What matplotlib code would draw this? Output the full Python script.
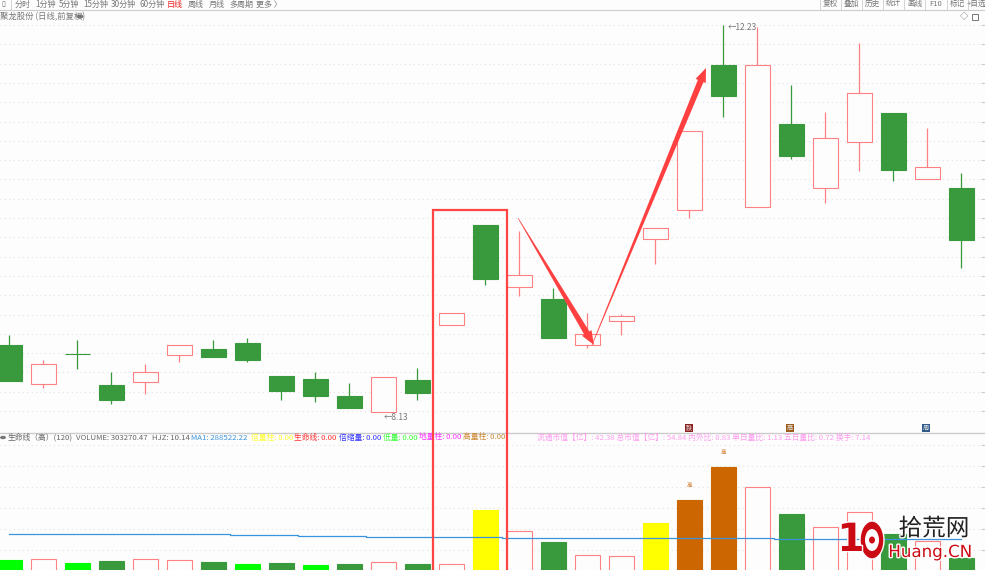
import numpy as np
import matplotlib
matplotlib.use('Agg')
import matplotlib.pyplot as plt
from matplotlib.patches import Rectangle, Polygon, Circle, Ellipse
from matplotlib.lines import Line2D
import matplotlib.patheffects as pe

plt.rcParams['font.family'] = ['Noto Sans CJK SC', 'DejaVu Sans']

# daily candles
opens = [8.84, 8.43, 8.74, 8.42, 8.45, 8.73, 8.80, 8.86, 8.51, 8.48, 8.30, 8.13, 8.47, 9.05, 10.11,
         9.45, 9.33, 8.84, 9.09, 9.96, 10.27, 11.81, 10.30, 11.18, 10.50, 10.99, 11.30, 10.60, 10.50]
closes = [8.46, 8.64, 8.74, 8.26, 8.55, 8.84, 8.71, 8.68, 8.35, 8.30, 8.17, 8.50, 8.33, 9.18, 9.54,
          9.58, 8.91, 8.96, 9.15, 10.08, 11.11, 11.48, 11.81, 10.84, 11.03, 11.51, 10.69, 10.73, 9.95]
highs = [8.95, 8.68, 8.89, 8.55, 8.64, 8.84, 8.89, 8.91, 8.51, 8.55, 8.44, 8.50, 8.60, 9.18, 10.11,
         10.05, 9.44, 9.18, 9.17, 10.08, 11.11, 12.23, 12.21, 11.59, 11.31, 12.04, 11.30, 11.14, 10.66]
lows = [8.46, 8.38, 8.59, 8.21, 8.32, 8.66, 8.71, 8.66, 8.26, 8.24, 8.17, 8.13, 8.26, 9.05, 9.48,
        9.36, 8.91, 8.81, 8.95, 9.70, 10.19, 11.26, 10.30, 10.81, 10.34, 10.68, 10.58, 10.60, 9.66]

volumes = [163000, 169000, 147000, 158000, 169000, 163000, 152000, 142000, 147000, 136000,
           142000, 152000, 142000, 142000, 436000, 321000, 261000, 191000, 185000, 365000,
           490000, 670000, 561000, 414000, 343000, 425000, 305000, 267000, 174000]
vol_kinds = ['low', 'up', 'low', 'down', 'up', 'up', 'down', 'low', 'down', 'low',
             'down', 'up', 'down', 'up', 'double', 'up', 'down', 'up', 'up', 'double',
             'high', 'high', 'up', 'down', 'up', 'up', 'down', 'up', 'down']
vol_ma = [304900, 304900, 304900, 302200, 302200, 302200, 302200, 299400, 296700, 294000,
          294000, 288500, 288500, 288500, 288500, 283100, 283100, 283100, 283100, 280400,
          280400, 280400, 280400, 277600, 277600, 277600, 277600, 277600, 277600]

periods = ['分时', '1分钟', '5分钟', '15分钟', '30分钟', '60分钟', '日线', '周线', '月线', '多周期', '更多 〉']
tools = ['复权', '叠加', '历史', '统计', '画线', 'F10', '标记', '+自选']
indicators = [('生命线（高）(120)', '#666666'), ('VOLUME: 303270.47', '#666666'), ('HJZ: 10.14', '#666666'),
              ('MA1: 288522.22', '#3a94dd'), ('倍量柱: 0.00', '#ffff33'), ('生命线: 0.00', '#ff3030'),
              ('倍缩量: 0.00', '#3333ff'), ('低量: 0.00', '#33ff33'), ('地量柱: 0.00', '#ff33ff'),
              ('高量柱: 0.00', '#cc8833')]
market = '流通市值【亿】: 42.38 总市值【亿】: 54.84 内外比: 0.83 单日量比: 1.13 五日量比: 0.72 换手: 7.14'

W, H = 985, 570
BG = '#fdfdfd'
RED = '#ff8080'
GREEN = '#389a3c'
vol_face = {'up': BG, 'down': GREEN, 'low': '#00ff00', 'double': '#ffff00', 'high': '#cc6600'}


def fx(px):
    return px / W


def fy(py):
    return 1 - py / H


def label(px, py, s, color='#666666', size=6, ha='left', **kw):
    return fig.text(fx(px), fy(py), s, color=color, fontsize=size, ha=ha, va='center', **kw)


def tapered_arrow(x0, y0, x1, y1, tail_w, neck_w, head_w, head_len):
    # thin at the tail, widening to the head, in pixel coordinates
    d = np.array([x1 - x0, y1 - y0], dtype=float)
    length = np.hypot(*d)
    d /= length
    n = np.array([-d[1], d[0]])
    tip = np.array([x1, y1], dtype=float)
    tail = np.array([x0, y0], dtype=float)
    neck = tip - d * head_len
    pts = [tail + n * tail_w / 2, neck + n * neck_w / 2, neck + n * head_w / 2, tip,
           neck - n * head_w / 2, neck - n * neck_w / 2, tail - n * tail_w / 2]
    pts = [(fx(p[0]), fy(p[1])) for p in pts]
    fig.add_artist(Polygon(pts, closed=True, facecolor='#ff4040', edgecolor='none', zorder=20))


fig = plt.figure(figsize=(W / 100, H / 100), dpi=100, facecolor=BG)
ax_price = fig.add_axes([0, (H - 432) / H, 1, 420 / H], facecolor=BG)
ax_vol = fig.add_axes([0, 0, 1, 137 / H], facecolor=BG)

x = np.arange(len(opens))
for ax in (ax_price, ax_vol):
    ax.set_xlim(-9.5 / 34, 975.5 / 34)
    ax.set_xticks([])
    for s in ax.spines.values():
        s.set_visible(False)

# price panel
ax_price.set_ylim(7.918, 12.368)
ax_price.set_yticks(np.arange(8.14, 12.3, 0.2045))
ax_price.set_yticklabels([])
ax_price.tick_params(axis='y', left=False, right=True, direction='in', length=3, color='#cccccc')
ax_price.grid(axis='y', color='#e2e2e2', linestyle=(0, (1, 3)), linewidth=0.8)
ax_price.set_axisbelow(True)

for i in x:
    up = closes[i] > opens[i]
    col = RED if up else GREEN
    ax_price.vlines(i, lows[i], highs[i], color=col, linewidth=0.9, zorder=2)
    low_b = min(opens[i], closes[i])
    ax_price.bar(i, abs(closes[i] - opens[i]), bottom=low_b, width=0.72,
                 facecolor=BG if up else GREEN, edgecolor=col, linewidth=0.8, zorder=3)

ax_price.annotate('←12.23', (21, 12.23), xytext=(3, -2), textcoords='offset points',
                  fontsize=6, color='#777777', va='center')
ax_price.annotate('←8.13', (11, 8.13), xytext=(0, -4), textcoords='offset points',
                  fontsize=6, color='#777777', va='center')

# volume panel
ax_vol.set_ylim(108880, 854700)
ax_vol.set_yticks([218000, 332000, 446000, 561000, 675000, 789000])
ax_vol.set_yticklabels([])
ax_vol.tick_params(axis='y', left=False, right=True, direction='in', length=3, color='#cccccc')
ax_vol.grid(axis='y', color='#e2e2e2', linestyle=(0, (1, 3)), linewidth=0.8)
ax_vol.set_axisbelow(True)

for i in x:
    kind = vol_kinds[i]
    edge = {'up': RED, 'down': GREEN}.get(kind, vol_face[kind])
    ax_vol.bar(i, volumes[i], width=0.72, facecolor=vol_face[kind], edgecolor=edge, linewidth=0.8, zorder=2)
ax_vol.step(x, vol_ma, where='mid', color='#3a94dd', linewidth=0.9, zorder=3)
for i in (20, 21):
    ax_vol.annotate('高', (i, volumes[i]), xytext=(0, 10), textcoords='offset points',
                    fontsize=4, color='#cc7722', ha='center', va='center', annotation_clip=False)

# toolbar and headers
fig.add_artist(Line2D([0, 1], [fy(10), fy(10)], color='#cccccc', linewidth=0.8))
fig.add_artist(Line2D([0, 1], [fy(432.5), fy(432.5)], color='#cccccc', linewidth=1))
fig.add_artist(Line2D([fx(11), fx(11)], [fy(0), fy(10)], color='#cccccc', linewidth=0.6))
label(1, 4, '▯', size=5)
for s, px in zip(periods, [15, 35, 59, 83, 111, 139, 167, 188, 209, 229, 256]):
    label(px, 4, s, color='#ee2222' if s == '日线' else '#777777', size=5.8)
for s, px, sep in zip(tools, [830, 851, 872, 893, 915, 936, 957, 976],
                      [820, 841, 862, 883, 904, 925, 947, 968]):
    label(px, 4, s, color='#777777', size=5.5, ha='center')
    fig.add_artist(Line2D([fx(sep), fx(sep)], [fy(0), fy(10)], color='#cccccc', linewidth=0.6))

label(0, 16.5, '聚龙股份 (日线,前复权)', color='#777777', size=6)
fig.add_artist(Circle((fx(80), fy(16.5)), 0.0035, facecolor='#777777', edgecolor='none',
                      transform=fig.transFigure))
label(964, 16.5, '◇', size=6, ha='center')
fig.add_artist(Rectangle((fx(972), fy(20)), 6 / W, 6 / H, facecolor='none', edgecolor='#777777', linewidth=0.7))

fig.add_artist(Circle((fx(3), fy(437.5)), 0.003, facecolor='#777777', edgecolor='none'))
for (s, col), px in zip(indicators, [8, 76, 152, 191, 251, 294, 339, 383, 419, 463]):
    label(px, 437.5, s, color=col, size=5.6)
label(537, 437.5, market, color='#ff9cf0', size=5.6)

# event tags above the separator
for px, col, s in [(689, '#8b2020', '跌'), (790, '#9a5a1a', '高'), (926, '#2f5a8a', '周')]:
    fig.add_artist(Rectangle((fx(px - 4), fy(432)), 8 / W, 8 / H, facecolor=col, edgecolor='none', zorder=6))
    label(px, 428, s, color='#e8e8e8', size=4.5, ha='center', zorder=7)

# hand drawn marks
fig.add_artist(Rectangle((fx(433), fy(572)), 74 / W, 362 / H, facecolor='none', edgecolor='#ff4444',
                         linewidth=1.6, zorder=20))
tapered_arrow(518, 218, 594, 345, 0.6, 6, 11, 14)
tapered_arrow(592, 345, 706, 68, 0.6, 6, 11, 14)

# site watermark
halo = [pe.withStroke(linewidth=2, foreground='white')]
label(851, 540, '1', color='#cc0a14', size=28, ha='center', family='DejaVu Sans', fontweight='bold',
      zorder=30, path_effects=halo)
fig.add_artist(Ellipse((fx(872), fy(540)), 24 / W, 38 / H, facecolor='#cc0a14', edgecolor='white',
                       linewidth=1, zorder=30))
fig.add_artist(Ellipse((fx(872), fy(540)), 14 / W, 22 / H, facecolor='white', edgecolor='none', zorder=31))
fig.add_artist(Ellipse((fx(872), fy(540)), 6 / W, 7 / H, facecolor='#cc0a14', edgecolor='none', zorder=32))
label(934, 529, '拾荒网', color='#222222', size=17, ha='center', zorder=30, path_effects=halo)
label(930, 552, 'Huang.CN', color='#cc0a14', size=12, ha='center', family='DejaVu Sans',
      zorder=30, path_effects=halo)

fig.savefig('out.png', dpi=100, facecolor=BG)
plt.close(fig)
